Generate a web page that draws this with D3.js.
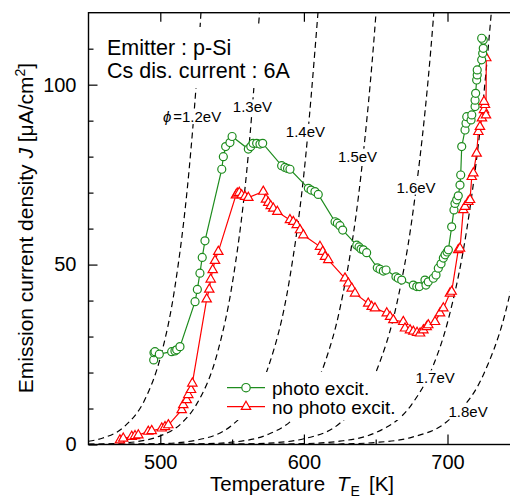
<!DOCTYPE html>
<html>
<head>
<meta charset="utf-8">
<script src="https://cdn.jsdelivr.net/npm/d3@7"></script>
<style>
body { margin: 0; background: #fff; }
svg { display: block; font-family: "Liberation Sans", Arial, sans-serif; }
</style>
</head>
<body>
<script>
// measured emission current density, photo excitation on (circles)
var photoT = [495.4, 495.6, 496.3, 499.3, 507.9, 510.2, 511.4, 513.7, 524.2, 525.8, 527.6, 529.2, 531.1,
  542.8, 543.9, 545.5, 548.5, 550.0, 561.3, 563.0, 564.6, 567.1, 569.4, 571.3, 584.5, 586.8, 588.6, 590.3,
  603.1, 605.0, 607.7, 610.0, 621.7, 623.3, 625.1, 627.0, 636.8, 638.4, 639.8, 641.4, 643.7, 651.1, 653.0,
  655.3, 657.2, 664.1, 665.7, 668.1, 676.2, 678.6, 680.4, 684.3, 685.0, 686.6, 690.1, 692.0, 693.6, 695.5,
  697.1, 698.3, 699.7, 700.6, 702.9, 704.5, 705.2, 706.4, 707.5, 708.7, 709.2, 709.9, 712.2, 712.9, 713.4,
  716.4, 716.9, 719.2, 719.2, 719.6, 720.3, 720.7, 720.7, 723.8, 724.5, 724.9, 724.9, 723.8];
var photoJ = [23.5, 25.5, 25.8, 25.1, 25.8, 26.0, 26.3, 27.2, 39.7, 43.1, 47.6, 52.0, 56.6,
  76.5, 80.0, 82.8, 83.9, 85.6, 82.1, 82.8, 83.7, 83.7, 83.5, 83.7, 77.5, 77.0, 76.7, 76.5,
  71.2, 70.7, 70.3, 69.5, 61.9, 61.5, 60.8, 59.6, 55.4, 54.9, 54.3, 54.1, 53.3, 49.1, 48.7,
  48.2, 48.5, 46.6, 46.2, 45.7, 44.3, 43.9, 43.9, 45.7, 44.3, 45.2, 46.2, 47.1, 49.0, 50.2,
  51.8, 52.7, 53.5, 54.1, 60.5, 65.2, 67.0, 68.0, 69.1, 72.1, 74.9, 82.8, 87.4, 89.3, 91.1,
  90.2, 91.6, 93.9, 95.7, 97.6, 101.3, 102.7, 104.1, 106.9, 108.7, 110.1, 112.4, 112.9];

// measured emission current density, no photo excitation (triangles)
var darkT = [471.9, 474.2, 480.1, 482.4, 484.7, 491.6, 494.0, 501.0, 503.3, 505.6, 514.9, 516.0, 518.4,
  519.5, 521.4, 522.3, 532.3, 534.1, 535.1, 536.5, 538.1, 540.4, 552.7, 553.6, 555.0, 556.7, 559.0, 561.3,
  571.7, 573.6, 575.2, 576.9, 578.7, 581.5, 590.3, 592.6, 595.0, 597.3, 599.6, 611.2, 613.1, 614.7, 617.0,
  628.6, 630.9, 633.3, 635.6, 644.8, 647.2, 649.5, 657.7, 660.0, 662.3, 669.2, 670.4, 673.9, 676.2, 678.8,
  680.9, 683.2, 685.5, 686.6, 691.3, 694.8, 697.1, 701.7, 702.9, 707.5, 708.7, 711.0, 712.2, 714.5, 715.7,
  716.9, 718.0, 720.3, 721.5, 722.6, 724.0, 725.4, 726.1, 725.4, 726.8, 727.0];
var darkJ = [1.2, 1.7, 2.2, 2.4, 2.6, 3.6, 3.8, 4.5, 4.9, 5.4, 9.6, 11.0, 12.4,
  13.8, 15.2, 17.0, 40.4, 43.1, 45.9, 48.5, 51.1, 53.6, 69.3, 69.8, 70.0, 69.3, 68.9, 68.6,
  70.3, 68.1, 67.2, 66.3, 65.6, 64.7, 62.4, 61.9, 61.0, 59.6, 58.2, 55.0, 53.6, 52.2, 51.3,
  46.2, 44.8, 43.4, 42.0, 39.2, 38.3, 37.9, 36.5, 35.5, 34.6, 34.1, 32.3, 31.8, 31.4, 31.1,
  30.9, 31.8, 32.7, 33.2, 34.1, 36.5, 37.9, 42.0, 42.5, 54.1, 54.5, 65.2, 66.1, 67.5, 68.0,
  74.4, 75.4, 80.9, 86.9, 88.3, 90.7, 93.0, 94.4, 95.3, 91.5, 107.4];

// dashed reference curves, [T, J] for each work function
var phi12 = [[450, 0.9], [460, 1.8], [475, 5.0], [490, 13.1], [500, 24.1], [510, 43.3], [520, 76.1], [525, 100], [530, 131]];
var phi13 = [[450, 0.07], [475, 0.44], [500, 2.4], [515, 6.0], [525, 11.0], [540, 25.8], [550, 44.4], [560, 75.2], [570, 125]];
var phi14 = [[450, 0.01], [500, 0.23], [525, 1.2], [550, 5.4], [565, 12.5], [575, 21.3], [590, 45.9], [600, 75.2], [610, 121]];
var phi15 = [[450, 0], [500, 0.02], [525, 0.13], [550, 0.65], [575, 2.8], [600, 10.9], [615, 23.2], [625, 37.6], [640, 75.8], [650, 118.8], [655, 148]];
var phi16 = [[450, 0], [525, 0.01], [550, 0.08], [575, 0.38], [600, 1.6], [625, 5.9], [650, 19.9], [665, 39.7], [675, 61.9], [690, 117.6], [695, 145]];
var phi17 = [[450, 0], [575, 0.05], [600, 0.23], [625, 0.92], [650, 3.3], [675, 11.1], [690, 21.9], [700, 33.9], [715, 63.9], [725, 96.1], [732, 127]];
var phi18 = [[450, 0], [600, 0.03], [625, 0.14], [650, 0.56], [675, 2.0], [700, 6.5], [725, 19.4], [740, 36.2], [750, 54.1]];
var phiCurves = [phi12, phi13, phi14, phi15, phi16, phi17, phi18];
var phiNames = ["1.2eV", "1.3eV", "1.4eV", "1.5eV", "1.6eV", "1.7eV", "1.8eV"];

var xMajor = [500, 600, 700];
var xMinor = [550, 650];
var yMajor = [0, 50, 100];
var yMinor = [10, 20, 30, 40, 60, 70, 80, 90, 110];

var W = 510, H = 503;
var green = "#1e8c1e", red = "#ff0000";

var x = d3.scaleLinear().domain([450, 750]).range([88.5, 519.3]);
var y = d3.scaleLinear().domain([0, 120]).range([444.5, 12.7]);

var svg = d3.select("body").append("svg")
  .attr("width", W)
  .attr("height", H);

svg.append("clipPath").attr("id", "plot")
  .append("rect")
  .attr("x", x(450)).attr("y", y(120))
  .attr("width", x(750) - x(450)).attr("height", y(0) - y(120));

var plot = svg.append("g").attr("clip-path", "url(#plot)");

// Richardson-type dashed curves
var line = d3.line()
  .x(function(d) { return x(d[0]); })
  .y(function(d) { return y(d[1]); })
  .curve(d3.curveMonotoneX);

plot.selectAll(".phi")
  .data(phiCurves)
  .enter().append("path")
  .attr("class", "phi")
  .attr("d", line)
  .attr("fill", "none")
  .attr("stroke", "#000")
  .attr("stroke-width", 1.2)
  .attr("stroke-dasharray", "6,4");

// white box behind the header text
svg.append("rect")
  .attr("x", 100).attr("y", 27).attr("width", 196).attr("height", 61)
  .attr("fill", "#fff");
svg.append("text").attr("x", 107).attr("y", 55).attr("font-size", 21.5).text("Emitter : p-Si");
svg.append("text").attr("x", 107).attr("y", 78).attr("font-size", 21.5).text("Cs dis. current : 6A");

// curve labels, anchors in data units
var labelAt = [[501.8, 89.6], [550.5, 92.3], [587.4, 85.5], [623.7, 78.6], [664.4, 70.0], [677.8, 17.0], [700.7, 7.6]];
var labels = svg.append("g").attr("font-size", 15);
phiNames.forEach(function(name, i) {
  var g = labels.append("g");
  var bg = g.append("rect").attr("fill", "#fff");
  var t = g.append("text")
    .attr("x", x(labelAt[i][0]))
    .attr("y", y(labelAt[i][1]));
  if (i === 0) {
    t.append("tspan").attr("font-style", "italic").text("\u03d5");
    t.append("tspan").attr("dx", 2).text("=" + name);
  } else {
    t.text(name);
  }
  var b = t.node().getBBox();
  bg.attr("x", b.x - 1).attr("y", b.y + 1).attr("width", b.width + 2).attr("height", b.height - 2);
});

// data series
var photo = photoT.map(function(t, i) { return [t, photoJ[i]]; });
var dark = darkT.map(function(t, i) { return [t, darkJ[i]]; });
var dataLine = d3.line()
  .x(function(d) { return x(d[0]); })
  .y(function(d) { return y(d[1]); });
var tri = d3.symbol().type(d3.symbolTriangle).size(38);

plot.append("path").attr("d", dataLine(dark))
  .attr("fill", "none").attr("stroke", red).attr("stroke-width", 1.2);
plot.selectAll(".dark").data(dark).enter().append("path")
  .attr("class", "dark")
  .attr("d", tri)
  .attr("transform", function(d) { return "translate(" + x(d[0]) + "," + y(d[1]) + ")"; })
  .attr("fill", "#fff").attr("stroke", red).attr("stroke-width", 1.2);

plot.append("path").attr("d", dataLine(photo))
  .attr("fill", "none").attr("stroke", green).attr("stroke-width", 1.2);
plot.selectAll(".photo").data(photo).enter().append("circle")
  .attr("class", "photo")
  .attr("cx", function(d) { return x(d[0]); })
  .attr("cy", function(d) { return y(d[1]); })
  .attr("r", 4)
  .attr("fill", "#fff").attr("stroke", green).attr("stroke-width", 1.2);

// legend
var leg = svg.append("g");
leg.append("rect").attr("x", 222).attr("y", 372).attr("width", 178).attr("height", 48).attr("fill", "#fff");
[[green, "photo excit.", 387.7], [red, "no photo excit.", 406.7]].forEach(function(e, i) {
  leg.append("line").attr("x1", 227).attr("x2", 265).attr("y1", e[2]).attr("y2", e[2])
    .attr("stroke", e[0]).attr("stroke-width", 1.2);
  if (i === 0) {
    leg.append("circle").attr("cx", 246).attr("cy", e[2]).attr("r", 4.2)
      .attr("fill", "#fff").attr("stroke", e[0]).attr("stroke-width", 1.2);
  } else {
    leg.append("path").attr("d", tri).attr("transform", "translate(246," + e[2] + ")")
      .attr("fill", "#fff").attr("stroke", e[0]).attr("stroke-width", 1.2);
  }
  leg.append("text").attr("x", 272).attr("y", e[2] + 7.5).attr("font-size", 19).text(e[1]);
});

// axes, ticks pointing inward
function styleAxis(g) {
  g.select(".domain").remove();
  g.selectAll(".tick line").attr("stroke", "#000").attr("stroke-width", 1.2);
  g.selectAll(".tick text").attr("fill", "#000").attr("font-size", 20)
    .attr("font-family", "Liberation Sans, Arial, sans-serif");
}
svg.append("g").attr("transform", "translate(0," + y(0) + ")")
  .call(d3.axisBottom(x).tickValues(xMajor).tickSize(-10).tickPadding(10).tickFormat(d3.format("d")))
  .call(styleAxis);
svg.append("g").attr("transform", "translate(0," + y(0) + ")")
  .call(d3.axisBottom(x).tickValues(xMinor).tickSize(-5).tickFormat(""))
  .call(styleAxis);
svg.append("g").attr("transform", "translate(0," + y(120) + ")")
  .call(d3.axisTop(x).tickValues(xMajor).tickSize(-9).tickFormat(""))
  .call(styleAxis);
svg.append("g").attr("transform", "translate(" + x(450) + ",0)")
  .call(d3.axisLeft(y).tickValues(yMajor).tickSize(-9).tickPadding(12).tickFormat(d3.format("d")))
  .call(styleAxis);
svg.append("g").attr("transform", "translate(" + x(450) + ",0)")
  .call(d3.axisLeft(y).tickValues(yMinor).tickSize(-5).tickFormat(""))
  .call(styleAxis);

svg.append("rect")
  .attr("x", x(450)).attr("y", y(120))
  .attr("width", x(750) - x(450)).attr("height", y(0) - y(120))
  .attr("fill", "none").attr("stroke", "#000").attr("stroke-width", 1.4);

// axis titles
var xt = svg.append("g").attr("font-size", 20.5);
xt.append("text").attr("x", 210).attr("y", 491).text("Temperature");
var te = xt.append("text").attr("x", 337).attr("y", 491);
te.append("tspan").attr("font-style", "italic").text("T");
te.append("tspan").attr("font-size", 14).attr("dy", 5).attr("dx", 1).text("E");
xt.append("text").attr("x", 369).attr("y", 491).text("[K]");

var yt = svg.append("text")
  .attr("transform", "translate(33,228) rotate(-90)")
  .attr("text-anchor", "middle")
  .attr("font-size", 21);
yt.append("tspan").text("Emission current density ");
yt.append("tspan").attr("font-style", "italic").text("J");
yt.append("tspan").text(" [\u03bcA/cm");
yt.append("tspan").attr("font-size", 14).attr("dy", -8).text("2");
yt.append("tspan").attr("dy", 8).text("]");
</script>
</body>
</html>
